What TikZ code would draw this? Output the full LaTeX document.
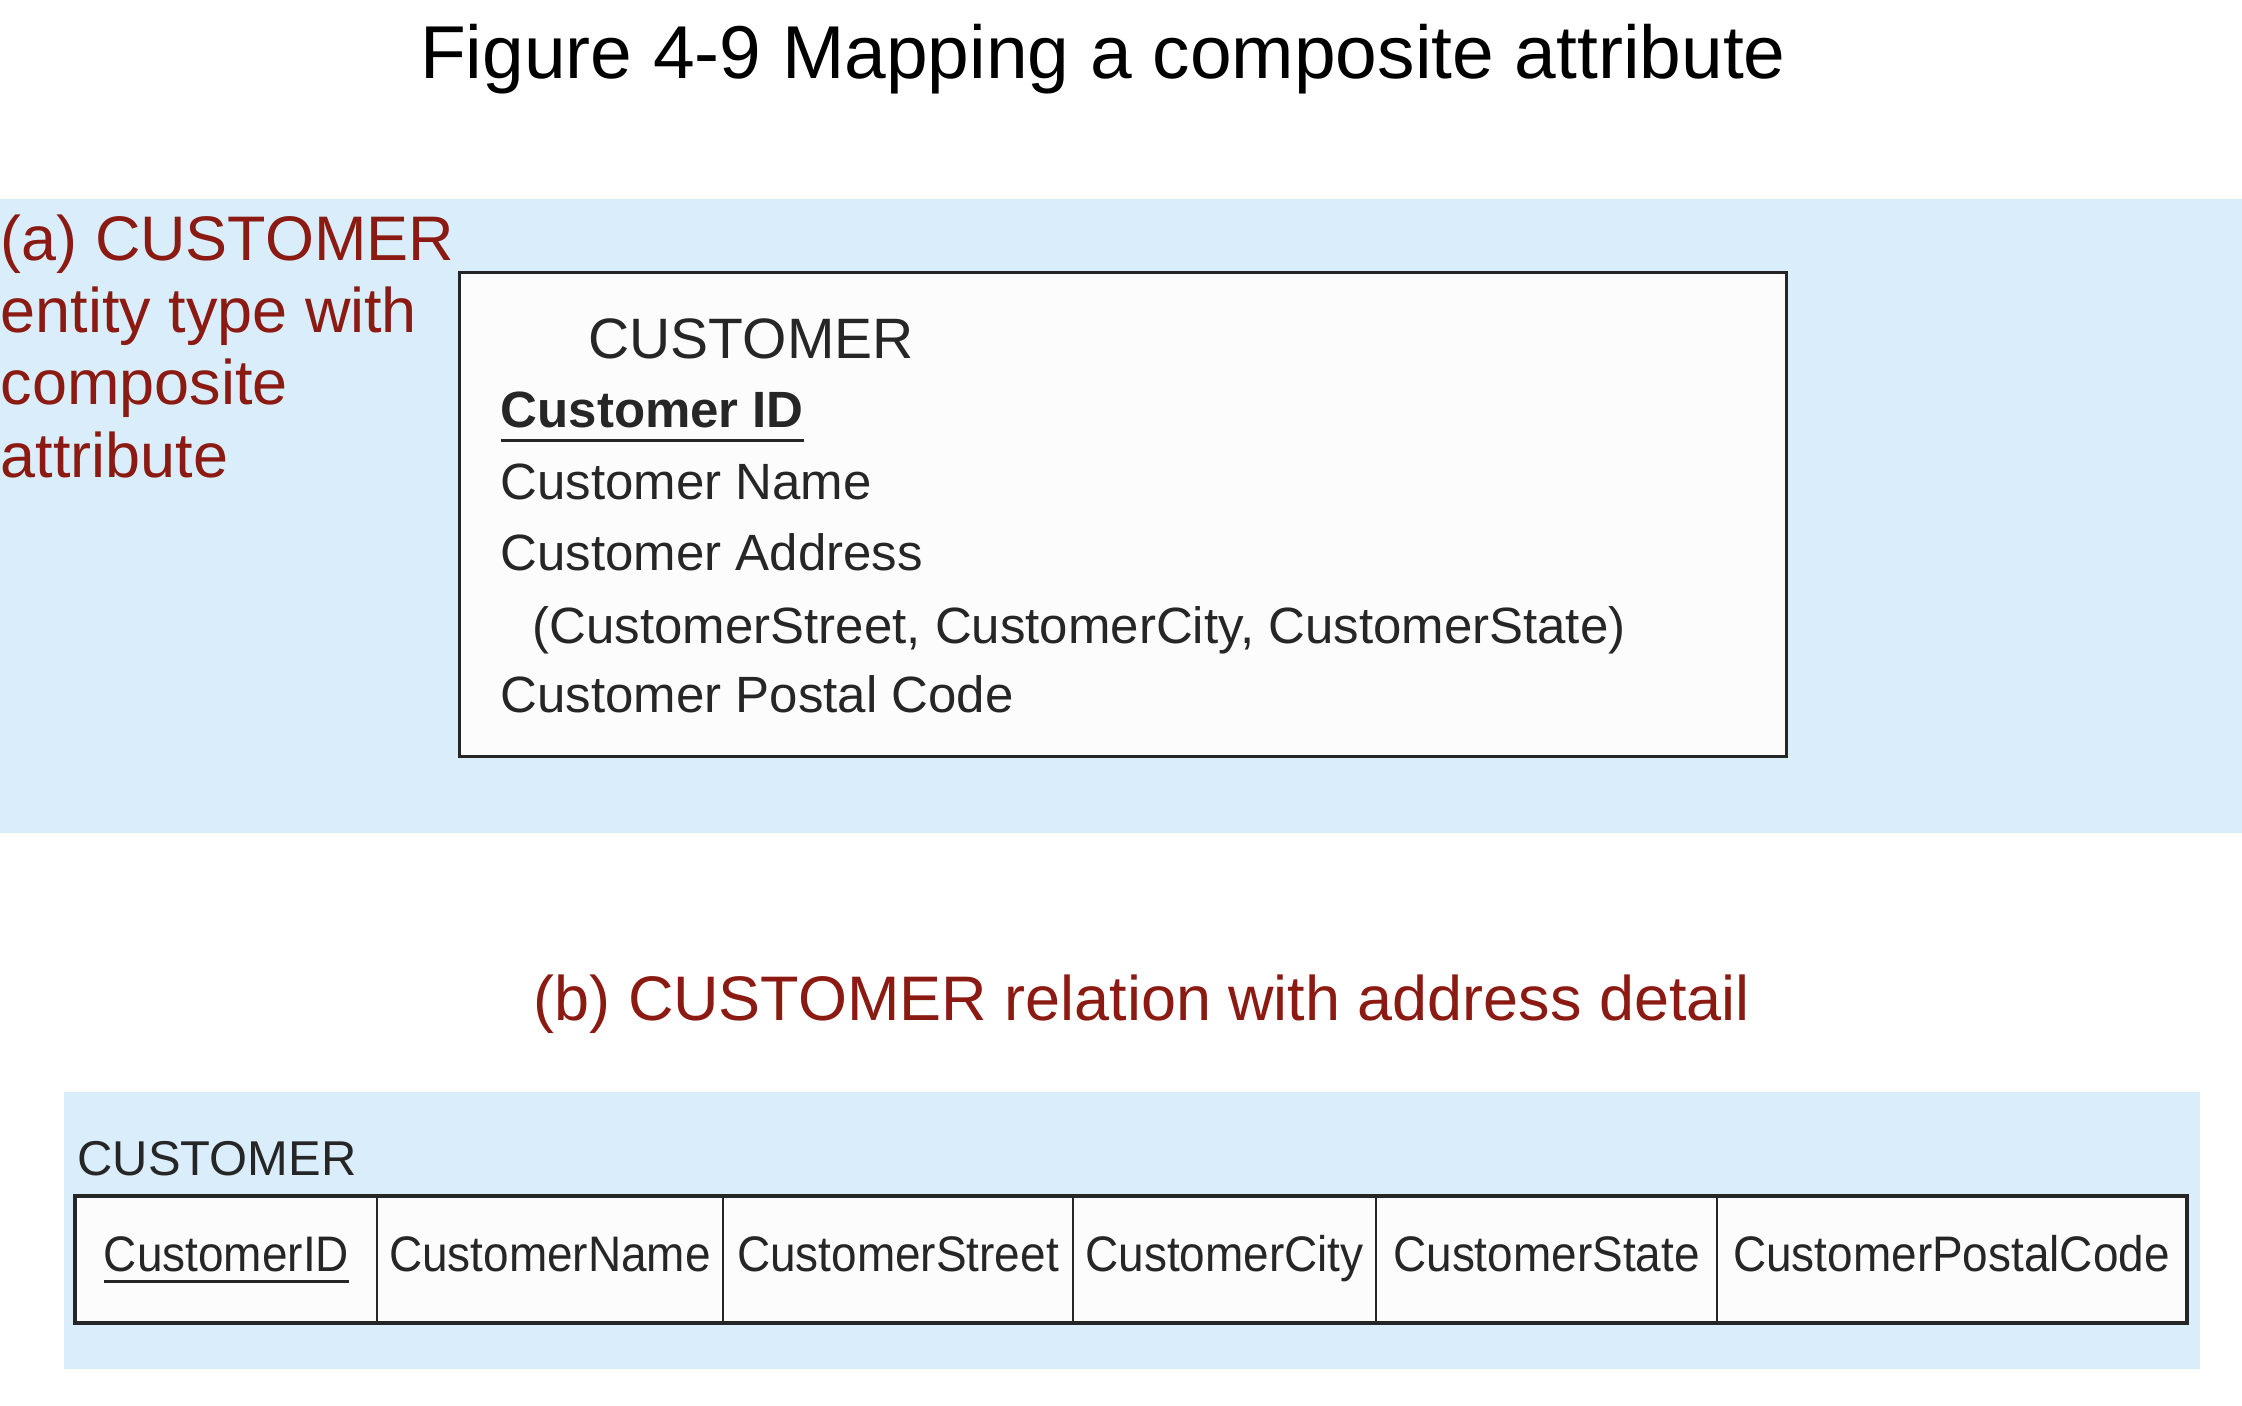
\documentclass[tikz,border=0pt]{standalone}
\usepackage{fontspec}
\setmainfont{Liberation Sans}
\newfontfamily\tblfont[FakeStretch=0.92]{Liberation Sans}
\definecolor{bandblue}{RGB}{217,238,250}
\definecolor{labelred}{RGB}{139,26,18}
\definecolor{inkgray}{RGB}{38,38,38}
\definecolor{boxfill}{RGB}{252,252,252}
\newcommand{\keyattr}[2]{\setbox0\hbox{#2}\rlap{\rule[-#1]{\wd0}{0.85pt}}\box0}
\tikzset{
  redlbl/.style={text=labelred, font=\fontsize{17.9}{20.5}\selectfont, inner sep=0pt},
  attr/.style={text=inkgray, font=\fontsize{14.5}{17}\selectfont, anchor=base west, inner sep=0pt},
  entbox/.style={draw=inkgray, line width=0.85pt, fill=boxfill},
  cell/.style={draw=inkgray, line width=0.6pt, fill=boxfill, inner sep=0pt,
    minimum height=1.25cm, text height=10.65pt, text depth=3.55pt,
    text=inkgray, font=\tblfont\fontsize{14.2}{17}\selectfont}
}
\begin{document}
\begin{tikzpicture}[x=0.01cm,y=-0.01cm]
  \useasboundingbox (0,0) rectangle (2242,1406);
  \fill[bandblue] (0,199) rectangle (2242,833);
  \fill[bandblue] (64,1092) rectangle (2200,1369);

  \node[anchor=base, font=\fontsize{21.3}{25}\selectfont] (title) at (1103,78)
    {Figure 4-9 Mapping a composite attribute};

  \node[redlbl, anchor=base west, align=left] (lbla) at (0,477)
    {(a) CUSTOMER\\entity type with\\composite\\attribute};

  \node[entbox, minimum width=13.26cm, minimum height=4.83cm] (ent) at (1123,514.5) {};
  \node[attr, font=\fontsize{16.2}{19}\selectfont] (entname) at (588,358) {CUSTOMER};
  \node[attr] (aid) at (500,427) {\keyattr{4.4pt}{\bfseries Customer ID}};
  \node[attr] (aname) at (500,499) {Customer Name};
  \node[attr] (aaddr) at (500,570) {Customer Address};
  \node[attr] (aparts) at (532,643) {(CustomerStreet, CustomerCity, CustomerState)};
  \node[attr] (apost) at (500,712) {Customer Postal Code};

  \node[redlbl, anchor=base west] (lblb) at (533,1020)
    {(b) CUSTOMER relation with address detail};

  \node[attr, font=\fontsize{13.9}{16}\selectfont] (relname) at (77,1175) {CUSTOMER};
  \node[cell, minimum width=3.01cm] (cid) at (226.5,1259.5) {\keyattr{3.25pt}{CustomerID}};
  \node[cell, minimum width=3.46cm] (cname) at (550,1259.5) {CustomerName};
  \node[cell, minimum width=3.50cm] (cstreet) at (898,1259.5) {CustomerStreet};
  \node[cell, minimum width=3.03cm] (ccity) at (1224.5,1259.5) {CustomerCity};
  \node[cell, minimum width=3.41cm] (cstate) at (1546.5,1259.5) {CustomerState};
  \node[cell, minimum width=4.69cm] (cpost) at (1951.5,1259.5) {CustomerPostalCode};
  \draw[inkgray, line width=0.9pt] (cid.north west) rectangle (cpost.south east);
\end{tikzpicture}
\end{document}
